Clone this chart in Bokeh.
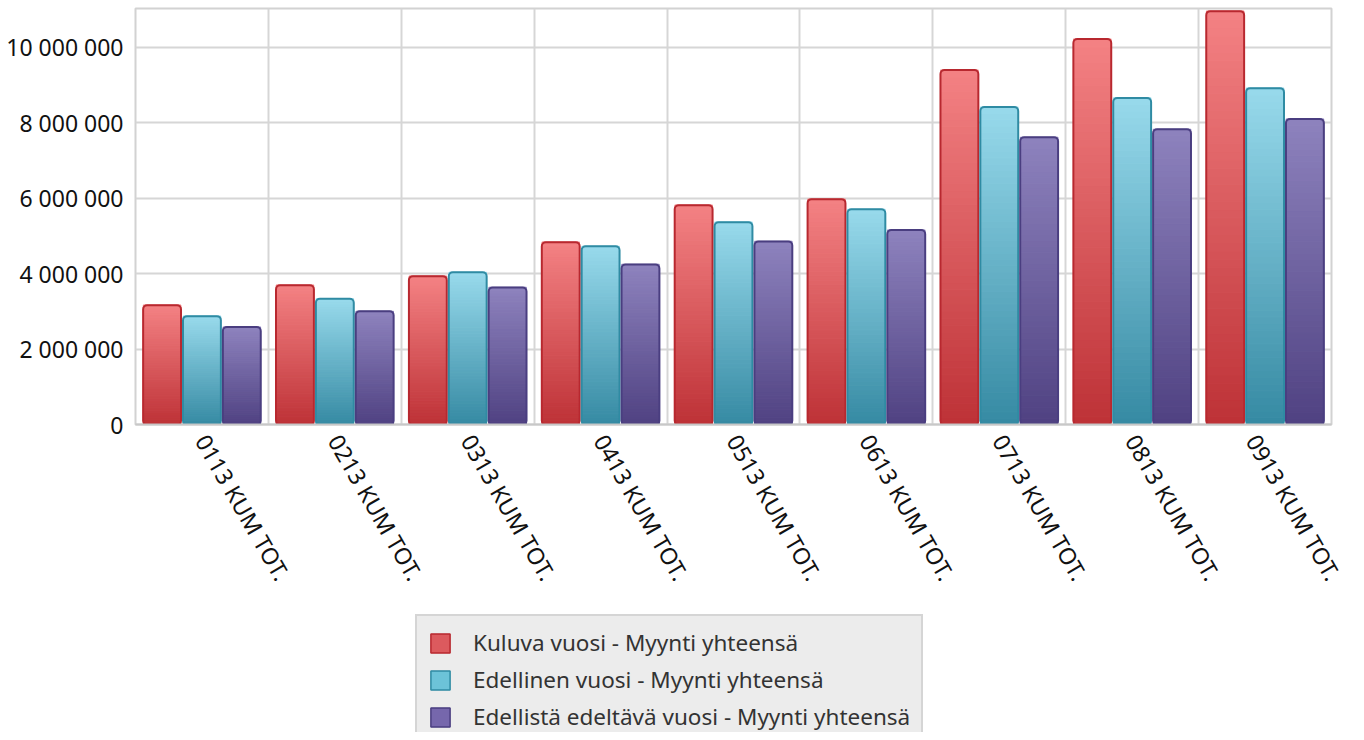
import numpy as np
from bokeh.plotting import figure
from bokeh.layouts import column
from bokeh.models import (Range1d, FixedTicker, CustomJSTickFormatter,
                          ColumnDataSource, Legend, LegendItem)
from bokeh.embed import file_html
from bokeh.resources import INLINE

categories = ["0113 KUM TOT.", "0213 KUM TOT.", "0313 KUM TOT.", "0413 KUM TOT.",
              "0513 KUM TOT.", "0613 KUM TOT.", "0713 KUM TOT.", "0813 KUM TOT.",
              "0913 KUM TOT."]
kuluva_vuosi = [3160000, 3690000, 3930000, 4830000, 5810000, 5970000, 9390000, 10210000, 10950000]
edellinen_vuosi = [2870000, 3330000, 4030000, 4720000, 5360000, 5700000, 8410000, 8650000, 8910000]
edellista_edeltava = [2580000, 3000000, 3630000, 4240000, 4850000, 5150000, 7610000, 7820000, 8090000]
series_names = ["Kuluva vuosi - Myynti yhteensä",
                "Edellinen vuosi - Myynti yhteensä",
                "Edellistä edeltävä vuosi - Myynti yhteensä"]
y_ticks = [0, 2000000, 4000000, 6000000, 8000000, 10000000]

series = [kuluva_vuosi, edellinen_vuosi, edellista_edeltava]
# (top colour, bottom colour, outline colour, legend colour)
styles = [
    ((244, 130, 132), (190, 50, 55), "#b8282f", "#dc5a5e"),
    ((152, 218, 236), (54, 138, 163), "#2f8ba3", "#6cc3d8"),
    ((142, 131, 190), (80, 66, 130), "#4a3e80", "#7667ac"),
]
offsets = [-0.3, 0.0, 0.3]
bar_w = 0.285
N = 50

FONT = "Noto Sans"

p = figure(width=1348, height=608, output_backend="svg", toolbar_location=None,
           x_range=Range1d(0, len(categories)), y_range=Range1d(0, 11020000),
           min_border_left=135, min_border_right=17, min_border_top=8, min_border_bottom=184)

p.outline_line_color = "#d2d2d2"
p.outline_line_width = 2
p.background_fill_color = "white"
p.border_fill_color = "white"

centers = np.arange(len(categories)) + 0.5

for s_idx, vals in enumerate(series):
    top_c, bot_c, line_c, leg_c = styles[s_idx]
    xs, bottoms, tops, colors = [], [], [], []
    for i, v in enumerate(vals):
        for k in range(N):
            f = (k + 0.5) / N
            r = int(bot_c[0] + (top_c[0] - bot_c[0]) * f)
            g = int(bot_c[1] + (top_c[1] - bot_c[1]) * f)
            b = int(bot_c[2] + (top_c[2] - bot_c[2]) * f)
            xs.append(centers[i] + offsets[s_idx])
            bottoms.append(v * k / N)
            tops.append(v * (k + 1) / N)
            colors.append("#%02x%02x%02x" % (r, g, b))
    src = ColumnDataSource(dict(x=xs, bottom=bottoms, top=tops, color=colors))
    p.vbar(x="x", bottom="bottom", top="top", width=bar_w - 0.004, source=src,
           fill_color="color", line_color="color", line_width=1.2)
    osrc = ColumnDataSource(dict(x=list(centers + offsets[s_idx]), top=list(vals)))
    p.vbar(x="x", top="top", bottom=0, width=bar_w, source=osrc,
           fill_color=None, line_color=line_c, line_width=2, border_radius=4)

# grids
p.xgrid.ticker = FixedTicker(ticks=list(range(len(categories) + 1)))
p.xgrid.grid_line_color = "#d6d6d6"
p.xgrid.grid_line_width = 2
p.ygrid.ticker = FixedTicker(ticks=y_ticks)
p.ygrid.grid_line_color = "#d6d6d6"
p.ygrid.grid_line_width = 2

# y axis
p.yaxis.ticker = FixedTicker(ticks=y_ticks)
p.yaxis.formatter = CustomJSTickFormatter(code=r"""
return Math.round(tick).toString().replace(/\B(?=(\d{3})+(?!\d))/g, ' ');
""")
p.yaxis.axis_line_color = None
p.yaxis.major_tick_line_color = None
p.yaxis.minor_tick_line_color = None
p.yaxis.major_tick_out = 0
p.yaxis.major_label_standoff = 12
p.yaxis.major_label_text_font = FONT
p.yaxis.major_label_text_font_size = "23px"
p.yaxis.major_label_text_color = "#111111"

# x axis
p.xaxis.ticker = FixedTicker(ticks=list(centers))
p.xaxis.major_label_overrides = {float(c): categories[i] for i, c in enumerate(centers)}
p.xaxis.axis_line_color = "#c8c8c8"
p.xaxis.axis_line_width = 2
p.xaxis.major_tick_line_color = None
p.xaxis.minor_tick_line_color = None
p.xaxis.major_tick_out = 0
p.xaxis.major_label_standoff = 12
p.xaxis.major_label_orientation = -np.pi / 3
p.xaxis.major_label_text_font = FONT
p.xaxis.major_label_text_font_size = "23px"
p.xaxis.major_label_text_color = "#111111"

# legend figure
p2 = figure(width=1348, height=124, output_backend="svg", toolbar_location=None,
            x_range=Range1d(0, 1), y_range=Range1d(0, 1),
            min_border_left=0, min_border_right=0, min_border_top=0, min_border_bottom=0)
p2.axis.visible = False
p2.grid.visible = False
p2.outline_line_color = None
p2.background_fill_color = "white"
p2.border_fill_color = "white"

legend_items = []
for s_idx in range(len(series)):
    top_c, bot_c, line_c, leg_c = styles[s_idx]
    # legend proxy (not drawn: NaN position)
    dsrc = ColumnDataSource(dict(x=[np.nan], top=[np.nan]))
    dr = p2.vbar(x="x", top="top", bottom=0, width=0.1, source=dsrc,
                 fill_color=leg_c, line_color=line_c, line_width=1.5)
    legend_items.append(LegendItem(label=series_names[s_idx], renderers=[dr]))

legend = Legend(items=legend_items, location=(280, -13))
legend.label_text_font = FONT
legend.label_text_font_size = "22.5px"
legend.label_text_color = "#333333"
legend.glyph_width = 24
legend.glyph_height = 24
legend.spacing = 6
legend.padding = 11
legend.label_standoff = 21
legend.margin = 0
legend.border_line_color = "#bdbdbd"
legend.border_line_width = 2
legend.background_fill_color = "#ececec"
legend.background_fill_alpha = 1
p2.add_layout(legend)

layout = column(p, p2, spacing=0)
open("out.html", "w").write(file_html(layout, INLINE))
